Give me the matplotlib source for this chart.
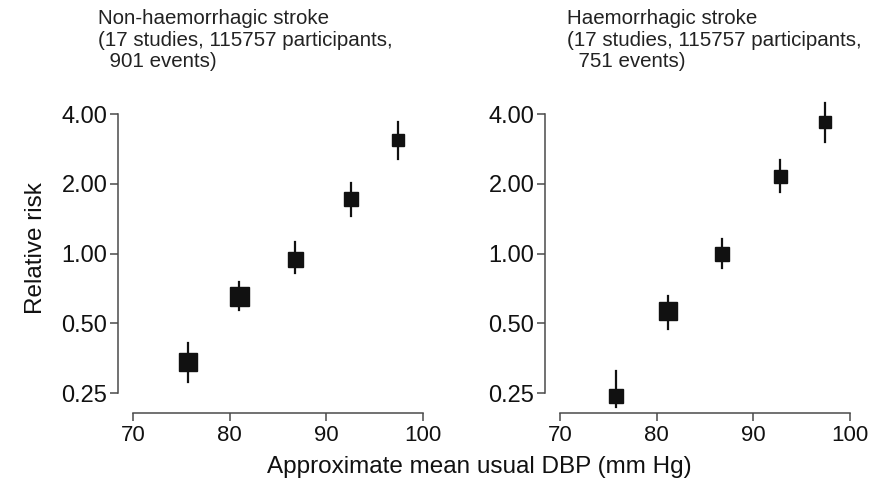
import numpy as np
import matplotlib.pyplot as plt
from matplotlib.ticker import FixedLocator, NullLocator

plt.rcParams['font.family'] = ['Liberation Sans', 'DejaVu Sans']

# ---------------- data ----------------
dbp_nonh = [75.7, 81.0, 86.75, 92.6, 97.4]
rr_nonh = [0.34, 0.655, 0.95, 1.72, 3.1]
lo_nonh = [0.28, 0.57, 0.82, 1.45, 2.55]
hi_nonh = [0.41, 0.75, 1.12, 2.02, 3.7]
box_nonh = [18, 19, 15, 14, 12]   # box sides (px), proportional to information

dbp_haem = [75.8, 81.2, 86.75, 92.75, 97.45]
rr_haem = [0.242, 0.566, 1.0, 2.15, 3.7]
lo_haem = [0.218, 0.47, 0.87, 1.85, 3.03]
hi_haem = [0.312, 0.655, 1.15, 2.53, 4.45]
box_haem = [14, 18, 14, 13, 12]

y_ticks = [0.25, 0.5, 1.0, 2.0, 4.0]
y_ticklabels = ['0.25', '0.50', '1.00', '2.00', '4.00']
x_ticks = [70, 80, 90, 100]

titles = ['Non-haemorrhagic stroke\n(17 studies, 115757 participants,\n  901 events)',
          'Haemorrhagic stroke\n(17 studies, 115757 participants,\n  751 events)']
#------------------------------------------------------------

W, H = 884, 486
fig = plt.figure(figsize=(W / 100, H / 100), dpi=100)

panels = [(dbp_nonh, rr_nonh, lo_nonh, hi_nonh, box_nonh),
          (dbp_haem, rr_haem, lo_haem, hi_haem, box_haem)]
left_px = [133, 560]
title_px = [98, 567]
ink = '#111111'
spine_col = '#4a4a4a'

for i, (x, rr, lo, hi, box) in enumerate(panels):
    ax = fig.add_axes([left_px[i] / W, 1 - 393 / H, 290 / W, 279 / H])
    ax.set_yscale('log')
    ax.set_xlim(70, 100)
    ax.set_ylim(0.25, 4.0)

    for xi, r, l, h, b in zip(x, rr, lo, hi, box):
        ax.plot([xi, xi], [l, h], color=ink, lw=1.6, clip_on=False, zorder=2)
        ax.plot(xi, r, marker='s', ms=b * 0.72, color=ink, mec=ink,
                clip_on=False, zorder=3)

    ax.yaxis.set_major_locator(FixedLocator(y_ticks))
    ax.yaxis.set_minor_locator(NullLocator())
    ax.set_yticklabels(y_ticklabels)
    ax.set_xticks(x_ticks)

    for s in ['top', 'right']:
        ax.spines[s].set_visible(False)
    ax.spines['left'].set_position(('outward', 11))
    ax.spines['bottom'].set_position(('outward', 14.5))
    ax.spines['left'].set_bounds(0.25, 4.0)
    ax.spines['bottom'].set_bounds(70, 100)
    for s in ['left', 'bottom']:
        ax.spines[s].set_color(spine_col)
        ax.spines[s].set_linewidth(1.1)
    ax.tick_params(axis='both', direction='out', length=5.5, width=1.1,
                   color=spine_col, labelsize=16, labelcolor=ink, pad=3)
    ax.tick_params(axis='y', labelsize=17, pad=2)
    ax.patch.set_visible(False)

    fig.text(title_px[i] / W, 1 - 9 / H, titles[i], ha='left', va='top',
             fontsize=14.8, color='#222222', linespacing=1.18)

fig.text(36 / W, 1 - 248 / H, 'Relative risk', rotation=90, ha='center',
         va='center', fontsize=17.5, color=ink)
fig.text(479 / W, 1 - 467 / H, 'Approximate mean usual DBP (mm Hg)',
         ha='center', va='center', fontsize=17.5, color=ink)

fig.savefig('out.png', dpi=100)
